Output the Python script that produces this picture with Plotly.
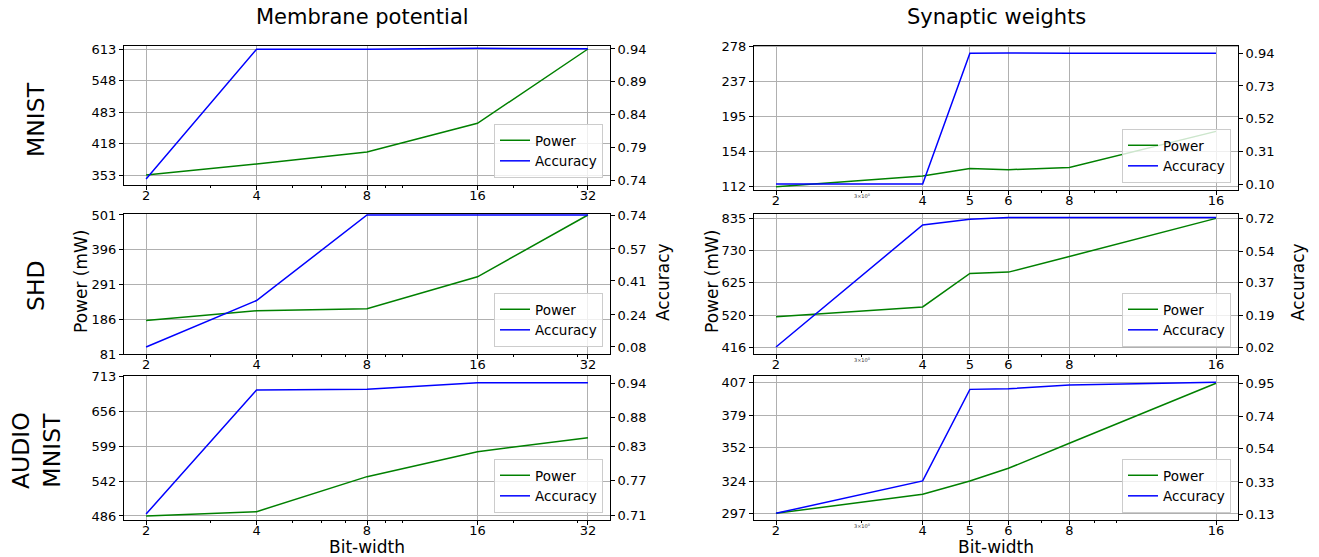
import numpy as np
import plotly.graph_objects as go

W, H = 1319, 557

# ---------------- data ----------------
bits_mem = [2, 4, 8, 16, 32]
bits_syn = [2, 4, 5, 6, 8, 16]

mnist_mem_power = [353, 375.7, 400.5, 459.6, 613]
mnist_mem_acc = [0.7415, 0.9395, 0.9395, 0.941, 0.9405]
mnist_syn_power = [112, 124.6, 133.7, 132.2, 134.9, 177.6]
mnist_syn_acc = [0.10, 0.10, 0.94, 0.942, 0.94, 0.94]

shd_mem_power = [182.4, 211.9, 218.0, 314.3, 501]
shd_mem_acc = [0.08, 0.312, 0.74, 0.74, 0.74]
shd_syn_power = [515, 546.7, 655.7, 660, 710.8, 835]
shd_syn_acc = [0.02, 0.684, 0.715, 0.725, 0.725, 0.725]

audio_mem_power = [486, 493, 549.8, 590.3, 613]
audio_mem_acc = [0.7117, 0.9284, 0.9295, 0.941, 0.941]
audio_syn_power = [297, 313, 324.2, 334.8, 355.8, 406.2]
audio_syn_acc = [0.136, 0.339, 0.912, 0.916, 0.94, 0.956]

# tick labels
mnist_mem_pticks = [353, 418, 483, 548, 613]
mnist_mem_aticks = [0.74, 0.79, 0.84, 0.89, 0.94]
mnist_syn_pticks = [112, 154, 195, 237, 278]
mnist_syn_aticks = [0.10, 0.31, 0.52, 0.73, 0.94]
shd_mem_pticks = [81, 186, 291, 396, 501]
shd_mem_aticks = [0.08, 0.24, 0.41, 0.57, 0.74]
shd_syn_pticks = [416, 520, 625, 730, 835]
shd_syn_aticks = [0.02, 0.19, 0.37, 0.54, 0.72]
audio_mem_pticks = [486, 542, 599, 656, 713]
audio_mem_aticks = [0.71, 0.77, 0.83, 0.88, 0.94]
audio_syn_pticks = [297, 324, 352, 379, 407]
audio_syn_aticks = [0.13, 0.33, 0.54, 0.74, 0.95]

col_titles = ["Membrane potential", "Synaptic weights"]
row_titles = ["MNIST", "SHD", "AUDIO<br>MNIST"]
series_names = ["Power", "Accuracy"]
xlabel = "Bit-width"
ylabel_left = "Power (mW)"
ylabel_right = "Accuracy"

# ---------------- layout geometry (pixels) ----------------
colx = [(124, 610), (754, 1238)]
panels = [
    # x, power, acc, pticks, aticks, col, (top,bottom) px, prange, arange
    (bits_mem, mnist_mem_power, mnist_mem_acc, mnist_mem_pticks, mnist_mem_aticks, 0, (45.7, 185), (332.4, 619.8), (0.7324, 0.945)),
    (bits_syn, mnist_syn_power, mnist_syn_acc, mnist_syn_pticks, mnist_syn_aticks, 1, (45.7, 190), (108.1, 279.2), (0.0614, 0.989)),
    (bits_mem, shd_mem_power, shd_mem_acc, shd_mem_pticks, shd_mem_aticks, 0, (214, 354), (81, 504), (0.0447, 0.745)),
    (bits_syn, shd_syn_power, shd_syn_acc, shd_syn_pticks, shd_syn_aticks, 1, (214, 354), (393.3, 849.3), (-0.0179, 0.7438)),
    (bits_mem, audio_mem_power, audio_mem_acc, audio_mem_pticks, audio_mem_aticks, 0, (376, 520), (479.5, 713), (0.7013, 0.9527)),
    (bits_syn, audio_syn_power, audio_syn_acc, audio_syn_pticks, audio_syn_aticks, 1, (376, 520), (291.4, 412.3), (0.0943, 0.9957)),
]

FONT = "DejaVu Sans"
GREEN = "#008000"
BLUE = "#0000ff"
GRID = "#b0b0b0"

fig = go.Figure()
layout = dict(
    width=W, height=H,
    margin=dict(l=0, r=0, t=0, b=0, autoexpand=False),
    plot_bgcolor="white", paper_bgcolor="white",
    font=dict(family=FONT, size=13, color="black"),
    showlegend=True,
)
annotations = []


def label(text, px, py, size, angle=0, **kw):
    d = dict(text=text, x=px / W, y=1 - py / H, xref="paper", yref="paper",
             xanchor="center", yanchor="middle", showarrow=False,
             textangle=angle, font=dict(family=FONT, size=size, color="black"))
    d.update(kw)
    return d


for i, (xs, pw, ac, pt, at, col, (top, bot), pr, ar) in enumerate(panels):
    n = i + 1
    xk = "x" if n == 1 else f"x{n}"
    ylk = "y" if n == 1 else f"y{2*n-1}"
    yrk = f"y{2*n}"
    leg = "legend" if n == 1 else f"legend{n}"
    x0, x1 = colx[col]

    lo, hi = np.log10(min(xs)), np.log10(max(xs))
    pad = 0.05 * (hi - lo)
    minor_vals = [3, 5, 6, 7, 9, 10, 20, 30] if col == 0 else [3, 7, 9, 10]

    layout["xaxis" if n == 1 else f"xaxis{n}"] = dict(
        type="log", domain=[x0 / W, x1 / W], anchor=ylk,
        range=[lo - pad, hi + pad],
        tickmode="array", tickvals=xs, ticktext=[str(v) for v in xs],
        ticks="outside", ticklen=4, tickwidth=1, tickcolor="black",
        ticklabelstandoff=-6,
        showline=True, linecolor="black", linewidth=1, mirror=True,
        showgrid=True, gridcolor=GRID, gridwidth=1, zeroline=False,
        tickfont=dict(family=FONT, size=13),
        minor=dict(tickmode="array", tickvals=minor_vals, ticks="outside", ticklen=2,
                   tickcolor="black", tickwidth=0.8, showgrid=False),
    )
    layout["yaxis" if n == 1 else f"yaxis{2*n-1}"] = dict(
        domain=[1 - bot / H, 1 - top / H], anchor=xk, range=list(pr),
        tickmode="array", tickvals=pt, ticktext=[str(v) for v in pt],
        ticks="outside", ticklen=4, tickwidth=1, tickcolor="black",
        showline=True, linecolor="black", linewidth=1, mirror=True,
        showgrid=True, gridcolor=GRID, gridwidth=1, zeroline=False,
        tickfont=dict(family=FONT, size=13),
    )
    layout[f"yaxis{2*n}"] = dict(
        overlaying=ylk, side="right", anchor=xk, range=list(ar),
        tickmode="array", tickvals=at, ticktext=[f"{v:.2f}" for v in at],
        ticks="outside", ticklen=4, tickwidth=1, tickcolor="black",
        showline=True, linecolor="black", linewidth=1,
        showgrid=False, zeroline=False,
        tickfont=dict(family=FONT, size=13),
    )
    layout[leg] = dict(
        x=(x1 - 7) / W, y=1 - (bot - 7) / H, xanchor="right", yanchor="bottom",
        xref="paper", yref="paper",
        bgcolor="rgba(255,255,255,0.8)", bordercolor="#cccccc", borderwidth=1,
        font=dict(family=FONT, size=13.5), tracegroupgap=0, itemwidth=30,
    )
    fig.add_trace(go.Scatter(x=xs, y=pw, mode="lines", name=series_names[0],
                             line=dict(color=GREEN, width=1.5),
                             xaxis=xk, yaxis=ylk, legend=leg))
    fig.add_trace(go.Scatter(x=xs, y=ac, mode="lines", name=series_names[1],
                             line=dict(color=BLUE, width=1.5),
                             xaxis=xk, yaxis=yrk, legend=leg))
    if col == 1:
        annotations.append(dict(text="3×10<sup>0</sup>", x=np.log10(3), xref=xk,
                                y=1 - (bot + 6) / H, yref="paper", showarrow=False,
                                xanchor="center", yanchor="middle",
                                font=dict(family=FONT, size=5, color="#333333")))

# column titles
for c, t in enumerate(col_titles):
    cx = (colx[c][0] + colx[c][1]) / 2 - (5 if c == 0 else 0)
    annotations.append(label(t, cx, 17, 21))
# row titles
for t, cy in zip(row_titles, [120, 286, 451]):
    annotations.append(label(t, 36, cy, 23.5, angle=-90))
# axis labels
for c, (lx, rx) in enumerate([(81, 663), (712, 1298)]):
    annotations.append(label(ylabel_left, lx, 282, 17, angle=-90))
    annotations.append(label(ylabel_right, rx, 282, 17, angle=-90))
    cx = (colx[c][0] + colx[c][1]) / 2
    annotations.append(label(xlabel, cx, 547, 17))

layout["annotations"] = annotations
fig.update_layout(**layout)

fig.write_html("out.html", config={"displayModeBar": False},
               post_script="document.body.style.margin='0';document.body.style.overflow='hidden';")
